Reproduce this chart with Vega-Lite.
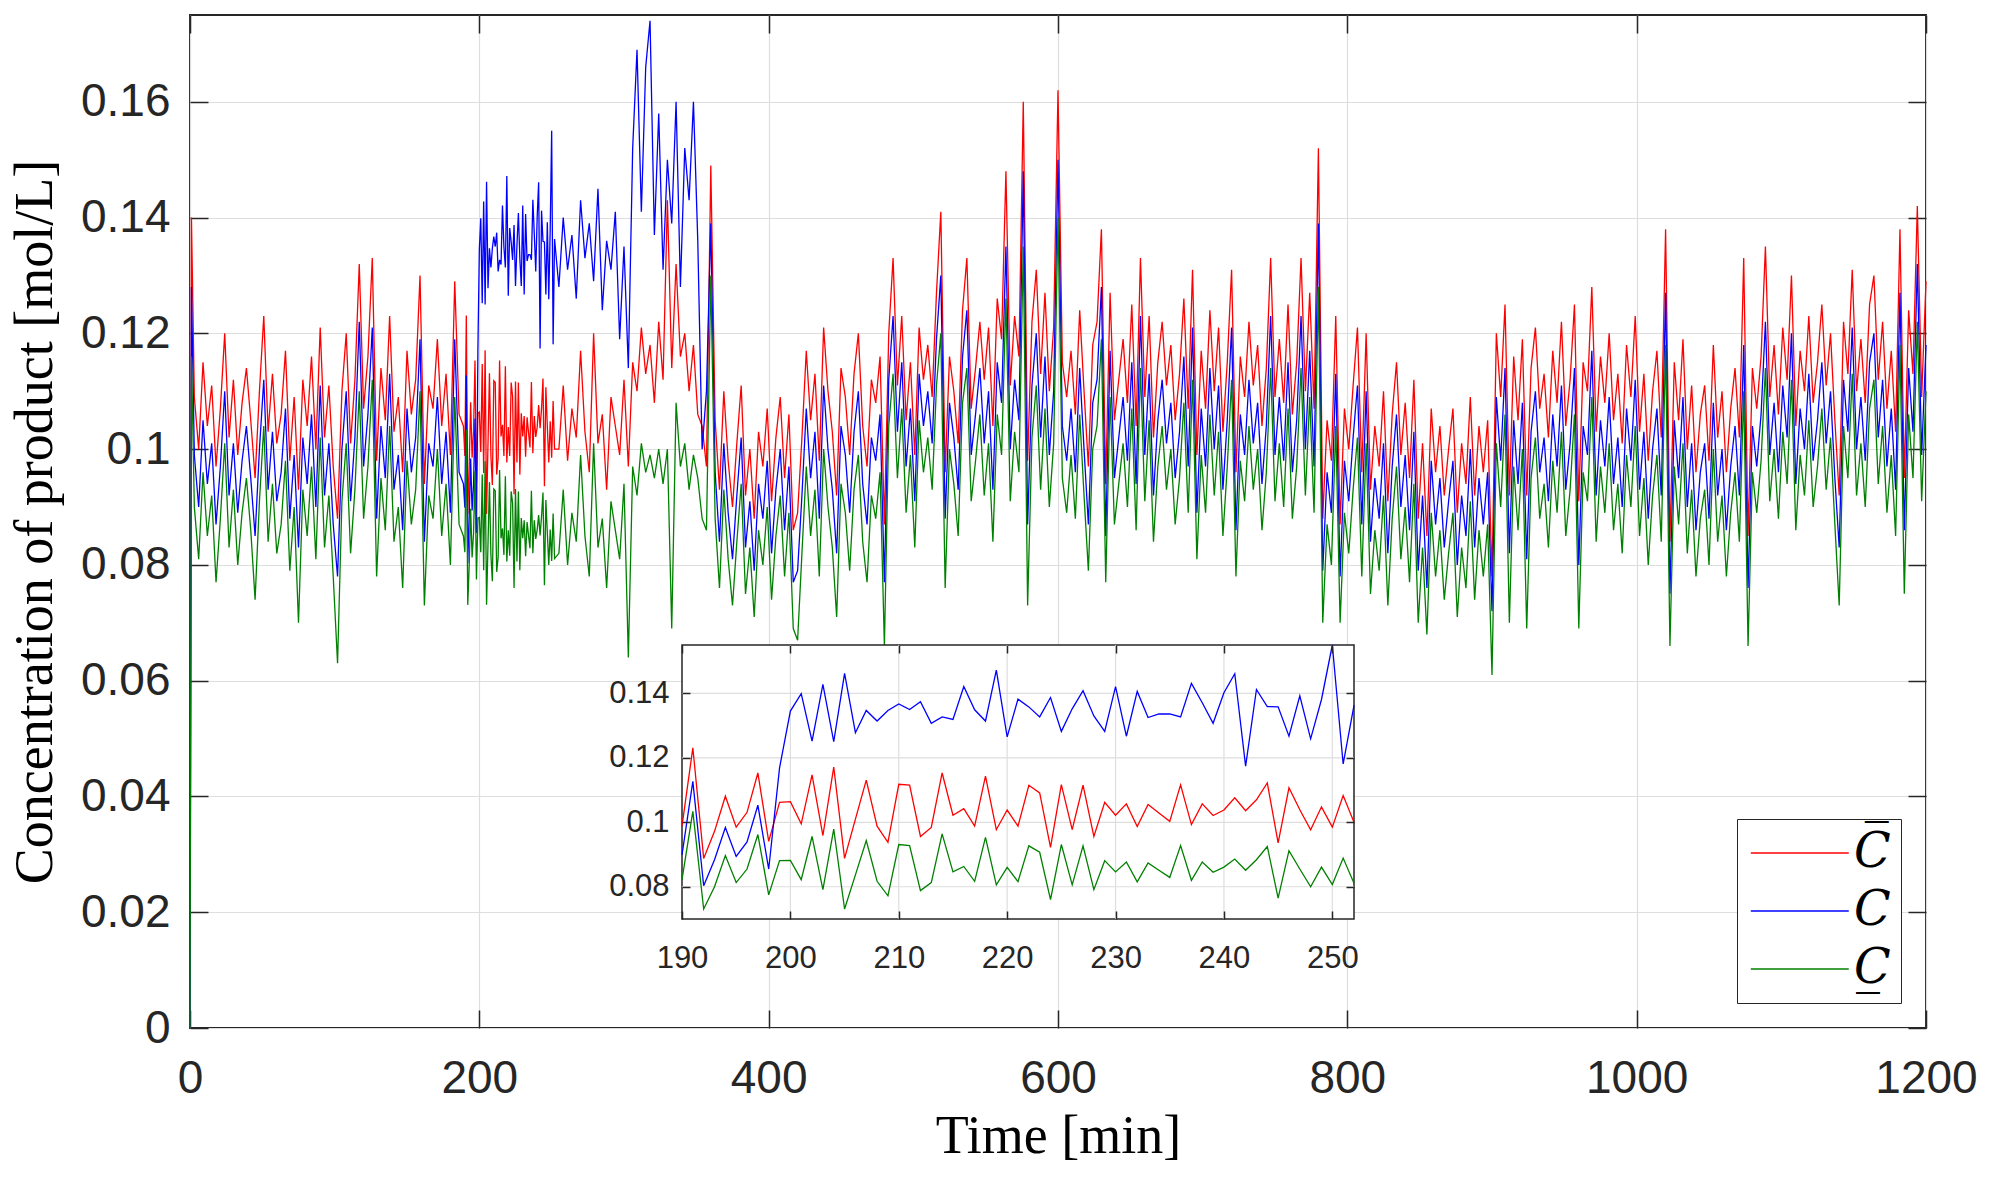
{
  "$schema": "https://vega.github.io/schema/vega-lite/v6.json",
  "width": 1736,
  "height": 1013,
  "autosize": {"type": "none"},
  "padding": {"left": 190, "top": 15, "right": 64, "bottom": 150},
  "background": "white",
  "datasets": {
    "main": [
      {"t":0,"u":0,"c":0,"l":0},{"t":1,"u":0.140,"c":0.128,"l":0.116},
      {"t":3,"u":0.109,"c":0.099,"l":0.090},{"t":6,"u":0.100,"c":0.090,"l":0.081},{"t":9,"u":0.115,"c":0.105,"l":0.096},
      {"t":12,"u":0.104,"c":0.094,"l":0.085},{"t":15,"u":0.111,"c":0.101,"l":0.092},{"t":18,"u":0.097,"c":0.087,"l":0.077},
      {"t":21,"u":0.107,"c":0.097,"l":0.088},{"t":24,"u":0.120,"c":0.110,"l":0.101},{"t":27,"u":0.102,"c":0.092,"l":0.083},
      {"t":30,"u":0.112,"c":0.101,"l":0.093},{"t":33,"u":0.099,"c":0.089,"l":0.080},{"t":36,"u":0.108,"c":0.098,"l":0.089},
      {"t":39,"u":0.114,"c":0.104,"l":0.095},{"t":42,"u":0.105,"c":0.095,"l":0.086},{"t":45,"u":0.095,"c":0.085,"l":0.074},
      {"t":48,"u":0.110,"c":0.100,"l":0.091},{"t":51,"u":0.123,"c":0.112,"l":0.104},{"t":54,"u":0.103,"c":0.093,"l":0.084},
      {"t":57,"u":0.113,"c":0.103,"l":0.094},{"t":60,"u":0.101,"c":0.091,"l":0.082},{"t":63,"u":0.106,"c":0.096,"l":0.087},
      {"t":66,"u":0.117,"c":0.107,"l":0.098},{"t":69,"u":0.098,"c":0.088,"l":0.079},{"t":72,"u":0.109,"c":0.099,"l":0.090},
      {"t":75,"u":0.093,"c":0.083,"l":0.070},{"t":78,"u":0.112,"c":0.102,"l":0.093},{"t":81,"u":0.104,"c":0.094,"l":0.085},
      {"t":84,"u":0.116,"c":0.106,"l":0.097},{"t":87,"u":0.100,"c":0.090,"l":0.081},{"t":90,"u":0.121,"c":0.111,"l":0.102},
      {"t":93,"u":0.102,"c":0.092,"l":0.083},{"t":96,"u":0.111,"c":0.101,"l":0.092},{"t":99,"u":0.097,"c":0.087,"l":0.078},
      {"t":102,"u":0.088,"c":0.078,"l":0.063},{"t":105,"u":0.110,"c":0.100,"l":0.091},{"t":108,"u":0.120,"c":0.110,"l":0.101},
      {"t":111,"u":0.101,"c":0.091,"l":0.082},{"t":114,"u":0.112,"c":0.102,"l":0.093},{"t":117,"u":0.132,"c":0.122,"l":0.110},
      {"t":120,"u":0.107,"c":0.097,"l":0.088},{"t":123,"u":0.116,"c":0.106,"l":0.097},{"t":126,"u":0.133,"c":0.121,"l":0.112},
      {"t":129,"u":0.098,"c":0.088,"l":0.078},{"t":132,"u":0.114,"c":0.104,"l":0.095},{"t":135,"u":0.105,"c":0.095,"l":0.086},
      {"t":138,"u":0.123,"c":0.113,"l":0.104},{"t":141,"u":0.103,"c":0.093,"l":0.084},{"t":144,"u":0.109,"c":0.099,"l":0.090},
      {"t":147,"u":0.096,"c":0.086,"l":0.076},{"t":150,"u":0.117,"c":0.107,"l":0.098},{"t":153,"u":0.106,"c":0.096,"l":0.087},
      {"t":156,"u":0.112,"c":0.102,"l":0.093},{"t":159,"u":0.130,"c":0.119,"l":0.110},{"t":162,"u":0.094,"c":0.084,"l":0.073},
      {"t":165,"u":0.111,"c":0.101,"l":0.092},{"t":168,"u":0.107,"c":0.097,"l":0.088},{"t":171,"u":0.119,"c":0.109,"l":0.100},
      {"t":174,"u":0.104,"c":0.094,"l":0.085},{"t":177,"u":0.113,"c":0.103,"l":0.094},{"t":180,"u":0.099,"c":0.089,"l":0.080},
      {"t":183,"u":0.129,"c":0.119,"l":0.109},{"t":186,"u":0.106,"c":0.096,"l":0.087},{"t":189,"u":0.104,"c":0.094,"l":0.085},
      {"t":190,"u":0.0988,"c":0.0899,"l":0.0822},{"t":191,"u":0.1231,"c":0.1127,"l":0.1034},{"t":192,"u":0.0888,"c":0.0803,"l":0.0731},
      {"t":193,"u":0.0972,"c":0.0884,"l":0.0800},{"t":194,"u":0.1081,"c":0.0984,"l":0.0897},{"t":195,"u":0.0985,"c":0.0894,"l":0.0813},
      {"t":196,"u":0.1031,"c":0.0939,"l":0.0855},{"t":197,"u":0.1153,"c":0.1053,"l":0.0962},{"t":198,"u":0.0941,"c":0.0855,"l":0.0775},
      {"t":199,"u":0.1062,"c":0.1169,"l":0.0881},{"t":200,"u":0.1064,"c":0.1345,"l":0.0882},{"t":201,"u":0.0995,"c":0.1399,"l":0.0822},
      {"t":202,"u":0.1147,"c":0.1252,"l":0.0956},{"t":203,"u":0.0959,"c":0.1428,"l":0.0791},{"t":204,"u":0.1171,"c":0.1250,"l":0.0979},
      {"t":205,"u":0.0888,"c":0.1462,"l":0.0731},{"t":206,"u":0.1010,"c":0.1278,"l":0.0837},{"t":207,"u":0.1131,"c":0.1347,"l":0.0943},
      {"t":208,"u":0.0988,"c":0.1314,"l":0.0817},{"t":209,"u":0.0938,"c":0.1347,"l":0.0772},{"t":210,"u":0.1118,"c":0.1367,"l":0.0931},
      {"t":211,"u":0.1115,"c":0.1350,"l":0.0928},{"t":212,"u":0.0956,"c":0.1374,"l":0.0788},{"t":213,"u":0.0984,"c":0.1307,"l":0.0813},
      {"t":214,"u":0.1153,"c":0.1327,"l":0.0964},{"t":215,"u":0.1022,"c":0.1319,"l":0.0846},{"t":216,"u":0.1042,"c":0.1421,"l":0.0863},
      {"t":217,"u":0.0988,"c":0.1349,"l":0.0817},{"t":218,"u":0.1143,"c":0.1314,"l":0.0953},{"t":219,"u":0.0977,"c":0.1472,"l":0.0806},
      {"t":220,"u":0.1038,"c":0.1265,"l":0.0860},{"t":221,"u":0.0988,"c":0.1382,"l":0.0816},{"t":222,"u":0.1115,"c":0.1358,"l":0.0927},
      {"t":223,"u":0.1091,"c":0.1327,"l":0.0907},{"t":224,"u":0.0922,"c":0.1387,"l":0.0760},{"t":225,"u":0.1117,"c":0.1282,"l":0.0931},
      {"t":226,"u":0.0977,"c":0.1352,"l":0.0806},{"t":227,"u":0.1115,"c":0.1408,"l":0.0927},{"t":228,"u":0.0956,"c":0.1330,"l":0.0791},
      {"t":229,"u":0.1062,"c":0.1282,"l":0.0881},{"t":230,"u":0.1022,"c":0.1421,"l":0.0846},{"t":231,"u":0.1057,"c":0.1267,"l":0.0877},
      {"t":232,"u":0.0987,"c":0.1406,"l":0.0815},{"t":233,"u":0.1055,"c":0.1325,"l":0.0874},{"t":234,"u":0.1029,"c":0.1336,"l":0.0851},
      {"t":235,"u":0.1003,"c":0.1336,"l":0.0829},{"t":236,"u":0.1116,"c":0.1327,"l":0.0928},{"t":237,"u":0.0993,"c":0.1431,"l":0.0820},
      {"t":238,"u":0.1057,"c":0.1371,"l":0.0877},{"t":239,"u":0.1021,"c":0.1307,"l":0.0845},{"t":240,"u":0.1038,"c":0.1402,"l":0.0861},
      {"t":241,"u":0.1076,"c":0.1461,"l":0.0886},{"t":242,"u":0.1036,"c":0.1174,"l":0.0851},{"t":243,"u":0.1070,"c":0.1412,"l":0.0884},
      {"t":244,"u":0.1122,"c":0.1359,"l":0.0925},{"t":245,"u":0.0936,"c":0.1358,"l":0.0765},{"t":246,"u":0.1107,"c":0.1267,"l":0.0912},
      {"t":247,"u":0.1039,"c":0.1392,"l":0.0855},{"t":248,"u":0.0977,"c":0.1259,"l":0.0800},{"t":249,"u":0.1048,"c":0.1381,"l":0.0861},
      {"t":250,"u":0.0985,"c":0.1550,"l":0.0807},{"t":251,"u":0.1083,"c":0.1181,"l":0.0889},{"t":252,"u":0.1000,"c":0.1363,"l":0.0811},
      {"t":255,"u":0.100,"c":0.128,"l":0.082},{"t":258,"u":0.111,"c":0.140,"l":0.093},{"t":261,"u":0.098,"c":0.131,"l":0.080},
      {"t":264,"u":0.107,"c":0.137,"l":0.089},{"t":267,"u":0.102,"c":0.126,"l":0.084},{"t":270,"u":0.117,"c":0.143,"l":0.099},
      {"t":273,"u":0.103,"c":0.133,"l":0.085},{"t":276,"u":0.096,"c":0.139,"l":0.078},{"t":279,"u":0.120,"c":0.129,"l":0.101},
      {"t":282,"u":0.101,"c":0.145,"l":0.083},{"t":285,"u":0.106,"c":0.124,"l":0.088},{"t":288,"u":0.093,"c":0.136,"l":0.076},
      {"t":291,"u":0.109,"c":0.131,"l":0.091},{"t":294,"u":0.104,"c":0.141,"l":0.086},{"t":297,"u":0.099,"c":0.119,"l":0.081},
      {"t":300,"u":0.112,"c":0.135,"l":0.094},{"t":303,"u":0.097,"c":0.114,"l":0.064},{"t":306,"u":0.115,"c":0.152,"l":0.097},
      {"t":309,"u":0.110,"c":0.169,"l":0.092},{"t":312,"u":0.121,"c":0.141,"l":0.101},{"t":315,"u":0.113,"c":0.166,"l":0.096},
      {"t":318,"u":0.118,"c":0.174,"l":0.099},{"t":321,"u":0.108,"c":0.137,"l":0.095},{"t":324,"u":0.122,"c":0.158,"l":0.100},
      {"t":327,"u":0.112,"c":0.131,"l":0.094},{"t":330,"u":0.143,"c":0.150,"l":0.100},{"t":333,"u":0.114,"c":0.139,"l":0.069},
      {"t":336,"u":0.132,"c":0.160,"l":0.108},{"t":339,"u":0.116,"c":0.128,"l":0.097},{"t":342,"u":0.120,"c":0.152,"l":0.101},
      {"t":345,"u":0.110,"c":0.143,"l":0.093},{"t":348,"u":0.118,"c":0.160,"l":0.099},{"t":351,"u":0.106,"c":0.136,"l":0.095},
      {"t":354,"u":0.104,"c":0.100,"l":0.088},{"t":357,"u":0.097,"c":0.110,"l":0.086},{"t":360,"u":0.149,"c":0.139,"l":0.130},
      {"t":363,"u":0.105,"c":0.096,"l":0.088},{"t":366,"u":0.093,"c":0.084,"l":0.076},{"t":369,"u":0.110,"c":0.101,"l":0.093},
      {"t":372,"u":0.098,"c":0.089,"l":0.081},{"t":375,"u":0.090,"c":0.081,"l":0.073},{"t":378,"u":0.101,"c":0.092,"l":0.084},
      {"t":381,"u":0.111,"c":0.102,"l":0.094},{"t":384,"u":0.092,"c":0.083,"l":0.075},{"t":387,"u":0.100,"c":0.091,"l":0.083},
      {"t":390,"u":0.088,"c":0.079,"l":0.071},{"t":393,"u":0.103,"c":0.094,"l":0.086},{"t":396,"u":0.097,"c":0.088,"l":0.080},
      {"t":399,"u":0.107,"c":0.098,"l":0.090},{"t":402,"u":0.091,"c":0.082,"l":0.074},{"t":405,"u":0.102,"c":0.093,"l":0.085},
      {"t":408,"u":0.109,"c":0.100,"l":0.092},{"t":411,"u":0.095,"c":0.086,"l":0.078},{"t":414,"u":0.106,"c":0.097,"l":0.089},
      {"t":417,"u":0.086,"c":0.077,"l":0.069},{"t":420,"u":0.089,"c":0.079,"l":0.067},{"t":423,"u":0.102,"c":0.092,"l":0.082},
      {"t":426,"u":0.117,"c":0.107,"l":0.097},{"t":429,"u":0.105,"c":0.095,"l":0.085},{"t":432,"u":0.113,"c":0.103,"l":0.093},
      {"t":435,"u":0.098,"c":0.088,"l":0.078},{"t":438,"u":0.121,"c":0.111,"l":0.100},{"t":441,"u":0.110,"c":0.100,"l":0.090},
      {"t":444,"u":0.103,"c":0.093,"l":0.083},{"t":447,"u":0.092,"c":0.082,"l":0.071},{"t":450,"u":0.114,"c":0.104,"l":0.094},
      {"t":453,"u":0.109,"c":0.099,"l":0.089},{"t":456,"u":0.099,"c":0.089,"l":0.079},{"t":459,"u":0.113,"c":0.103,"l":0.093},
      {"t":462,"u":0.120,"c":0.110,"l":0.099},{"t":465,"u":0.104,"c":0.094,"l":0.084},{"t":468,"u":0.097,"c":0.087,"l":0.077},
      {"t":471,"u":0.112,"c":0.102,"l":0.092},{"t":474,"u":0.108,"c":0.098,"l":0.088},{"t":477,"u":0.116,"c":0.106,"l":0.096},
      {"t":480,"u":0.087,"c":0.077,"l":0.066},{"t":483,"u":0.120,"c":0.112,"l":0.104},{"t":486,"u":0.133,"c":0.123,"l":0.113},
      {"t":489,"u":0.111,"c":0.103,"l":0.095},{"t":492,"u":0.123,"c":0.115,"l":0.107},{"t":495,"u":0.105,"c":0.097,"l":0.089},
      {"t":498,"u":0.115,"c":0.107,"l":0.099},{"t":501,"u":0.099,"c":0.091,"l":0.083},{"t":504,"u":0.121,"c":0.113,"l":0.105},
      {"t":507,"u":0.112,"c":0.104,"l":0.096},{"t":510,"u":0.118,"c":0.110,"l":0.102},{"t":513,"u":0.109,"c":0.101,"l":0.093},
      {"t":516,"u":0.127,"c":0.119,"l":0.111},{"t":519,"u":0.141,"c":0.130,"l":0.120},{"t":522,"u":0.096,"c":0.088,"l":0.076},
      {"t":525,"u":0.116,"c":0.108,"l":0.100},{"t":528,"u":0.110,"c":0.102,"l":0.094},{"t":531,"u":0.101,"c":0.093,"l":0.085},
      {"t":534,"u":0.124,"c":0.116,"l":0.108},{"t":537,"u":0.133,"c":0.124,"l":0.114},{"t":540,"u":0.107,"c":0.099,"l":0.091},
      {"t":543,"u":0.114,"c":0.106,"l":0.098},{"t":546,"u":0.122,"c":0.114,"l":0.106},{"t":549,"u":0.112,"c":0.101,"l":0.092},
      {"t":552,"u":0.121,"c":0.110,"l":0.101},{"t":555,"u":0.104,"c":0.093,"l":0.084},{"t":558,"u":0.126,"c":0.115,"l":0.106},
      {"t":561,"u":0.119,"c":0.108,"l":0.099},{"t":564,"u":0.148,"c":0.135,"l":0.126},{"t":567,"u":0.111,"c":0.100,"l":0.091},
      {"t":570,"u":0.123,"c":0.112,"l":0.103},{"t":573,"u":0.116,"c":0.105,"l":0.096},{"t":576,"u":0.160,"c":0.148,"l":0.135},
      {"t":579,"u":0.098,"c":0.087,"l":0.073},{"t":582,"u":0.122,"c":0.111,"l":0.102},{"t":585,"u":0.131,"c":0.120,"l":0.111},
      {"t":588,"u":0.113,"c":0.102,"l":0.093},{"t":591,"u":0.127,"c":0.116,"l":0.107},{"t":594,"u":0.110,"c":0.099,"l":0.090},
      {"t":597,"u":0.121,"c":0.110,"l":0.101},{"t":600,"u":0.162,"c":0.150,"l":0.140},{"t":603,"u":0.115,"c":0.104,"l":0.095},
      {"t":606,"u":0.109,"c":0.098,"l":0.089},{"t":609,"u":0.117,"c":0.107,"l":0.099},{"t":612,"u":0.106,"c":0.096,"l":0.088},
      {"t":615,"u":0.124,"c":0.114,"l":0.106},{"t":618,"u":0.110,"c":0.100,"l":0.092},{"t":621,"u":0.097,"c":0.087,"l":0.079},
      {"t":624,"u":0.118,"c":0.108,"l":0.100},{"t":627,"u":0.122,"c":0.112,"l":0.104},{"t":630,"u":0.138,"c":0.128,"l":0.119},
      {"t":633,"u":0.094,"c":0.085,"l":0.077},{"t":636,"u":0.127,"c":0.117,"l":0.109},{"t":639,"u":0.105,"c":0.095,"l":0.087},
      {"t":642,"u":0.112,"c":0.102,"l":0.094},{"t":645,"u":0.119,"c":0.109,"l":0.101},{"t":648,"u":0.108,"c":0.098,"l":0.090},
      {"t":651,"u":0.125,"c":0.115,"l":0.107},{"t":654,"u":0.104,"c":0.094,"l":0.086},{"t":657,"u":0.133,"c":0.123,"l":0.114},
      {"t":660,"u":0.109,"c":0.099,"l":0.091},{"t":663,"u":0.123,"c":0.113,"l":0.105},{"t":666,"u":0.102,"c":0.092,"l":0.084},
      {"t":669,"u":0.115,"c":0.105,"l":0.097},{"t":672,"u":0.122,"c":0.112,"l":0.104},{"t":675,"u":0.111,"c":0.101,"l":0.093},
      {"t":678,"u":0.118,"c":0.108,"l":0.100},{"t":681,"u":0.105,"c":0.095,"l":0.087},{"t":684,"u":0.113,"c":0.103,"l":0.095},
      {"t":687,"u":0.126,"c":0.116,"l":0.108},{"t":690,"u":0.107,"c":0.097,"l":0.089},{"t":693,"u":0.131,"c":0.121,"l":0.112},
      {"t":696,"u":0.099,"c":0.089,"l":0.081},{"t":699,"u":0.117,"c":0.107,"l":0.099},{"t":702,"u":0.107,"c":0.097,"l":0.089},
      {"t":705,"u":0.124,"c":0.114,"l":0.106},{"t":708,"u":0.110,"c":0.100,"l":0.092},{"t":711,"u":0.121,"c":0.111,"l":0.103},
      {"t":714,"u":0.103,"c":0.093,"l":0.085},{"t":717,"u":0.115,"c":0.105,"l":0.097},{"t":720,"u":0.131,"c":0.121,"l":0.112},
      {"t":723,"u":0.096,"c":0.086,"l":0.078},{"t":726,"u":0.116,"c":0.106,"l":0.098},{"t":729,"u":0.109,"c":0.099,"l":0.091},
      {"t":732,"u":0.122,"c":0.112,"l":0.104},{"t":735,"u":0.111,"c":0.101,"l":0.093},{"t":738,"u":0.118,"c":0.108,"l":0.100},
      {"t":741,"u":0.104,"c":0.094,"l":0.086},{"t":744,"u":0.114,"c":0.104,"l":0.096},{"t":747,"u":0.133,"c":0.123,"l":0.114},
      {"t":750,"u":0.109,"c":0.099,"l":0.091},{"t":753,"u":0.119,"c":0.109,"l":0.101},{"t":756,"u":0.108,"c":0.098,"l":0.090},
      {"t":759,"u":0.125,"c":0.115,"l":0.107},{"t":762,"u":0.106,"c":0.096,"l":0.088},{"t":765,"u":0.115,"c":0.105,"l":0.097},
      {"t":768,"u":0.133,"c":0.123,"l":0.114},{"t":771,"u":0.110,"c":0.100,"l":0.092},{"t":774,"u":0.127,"c":0.117,"l":0.109},
      {"t":777,"u":0.107,"c":0.097,"l":0.089},{"t":780,"u":0.152,"c":0.139,"l":0.128},{"t":783,"u":0.088,"c":0.079,"l":0.070},
      {"t":786,"u":0.105,"c":0.096,"l":0.087},{"t":789,"u":0.098,"c":0.089,"l":0.080},{"t":792,"u":0.123,"c":0.113,"l":0.104},
      {"t":795,"u":0.087,"c":0.078,"l":0.070},{"t":798,"u":0.107,"c":0.098,"l":0.089},{"t":801,"u":0.100,"c":0.091,"l":0.082},
      {"t":804,"u":0.111,"c":0.102,"l":0.093},{"t":807,"u":0.121,"c":0.111,"l":0.102},{"t":810,"u":0.096,"c":0.087,"l":0.078},
      {"t":813,"u":0.120,"c":0.110,"l":0.101},{"t":816,"u":0.093,"c":0.084,"l":0.075},{"t":819,"u":0.104,"c":0.095,"l":0.086},
      {"t":822,"u":0.097,"c":0.088,"l":0.079},{"t":825,"u":0.110,"c":0.101,"l":0.092},{"t":828,"u":0.091,"c":0.082,"l":0.073},
      {"t":831,"u":0.106,"c":0.097,"l":0.088},{"t":834,"u":0.115,"c":0.106,"l":0.097},{"t":837,"u":0.099,"c":0.090,"l":0.081},
      {"t":840,"u":0.108,"c":0.099,"l":0.090},{"t":843,"u":0.095,"c":0.086,"l":0.077},{"t":846,"u":0.112,"c":0.103,"l":0.094},
      {"t":849,"u":0.088,"c":0.079,"l":0.070},{"t":852,"u":0.101,"c":0.092,"l":0.083},{"t":855,"u":0.085,"c":0.076,"l":0.068},
      {"t":858,"u":0.107,"c":0.098,"l":0.089},{"t":861,"u":0.096,"c":0.087,"l":0.078},{"t":864,"u":0.104,"c":0.095,"l":0.086},
      {"t":867,"u":0.092,"c":0.083,"l":0.074},{"t":870,"u":0.100,"c":0.091,"l":0.082},{"t":873,"u":0.107,"c":0.098,"l":0.089},
      {"t":876,"u":0.089,"c":0.080,"l":0.071},{"t":879,"u":0.101,"c":0.092,"l":0.083},{"t":882,"u":0.094,"c":0.085,"l":0.076},
      {"t":885,"u":0.109,"c":0.100,"l":0.091},{"t":888,"u":0.092,"c":0.083,"l":0.074},{"t":891,"u":0.104,"c":0.095,"l":0.086},
      {"t":894,"u":0.096,"c":0.087,"l":0.078},{"t":897,"u":0.105,"c":0.096,"l":0.087},{"t":900,"u":0.078,"c":0.072,"l":0.061},
      {"t":903,"u":0.120,"c":0.109,"l":0.101},{"t":906,"u":0.109,"c":0.098,"l":0.090},{"t":909,"u":0.125,"c":0.114,"l":0.106},
      {"t":912,"u":0.092,"c":0.082,"l":0.070},{"t":915,"u":0.116,"c":0.105,"l":0.097},{"t":918,"u":0.105,"c":0.094,"l":0.086},
      {"t":921,"u":0.119,"c":0.108,"l":0.100},{"t":924,"u":0.092,"c":0.081,"l":0.069},{"t":927,"u":0.114,"c":0.103,"l":0.095},
      {"t":930,"u":0.121,"c":0.110,"l":0.102},{"t":933,"u":0.107,"c":0.096,"l":0.088},{"t":936,"u":0.113,"c":0.102,"l":0.094},
      {"t":939,"u":0.102,"c":0.091,"l":0.083},{"t":942,"u":0.117,"c":0.106,"l":0.098},{"t":945,"u":0.108,"c":0.097,"l":0.089},
      {"t":948,"u":0.122,"c":0.111,"l":0.103},{"t":951,"u":0.104,"c":0.093,"l":0.085},{"t":954,"u":0.112,"c":0.101,"l":0.093},
      {"t":957,"u":0.125,"c":0.114,"l":0.106},{"t":960,"u":0.091,"c":0.080,"l":0.069},{"t":963,"u":0.115,"c":0.104,"l":0.096},
      {"t":966,"u":0.110,"c":0.099,"l":0.091},{"t":969,"u":0.128,"c":0.117,"l":0.109},{"t":972,"u":0.103,"c":0.092,"l":0.084},
      {"t":975,"u":0.116,"c":0.105,"l":0.097},{"t":978,"u":0.108,"c":0.097,"l":0.089},{"t":981,"u":0.120,"c":0.109,"l":0.101},
      {"t":984,"u":0.105,"c":0.094,"l":0.086},{"t":987,"u":0.113,"c":0.102,"l":0.094},{"t":990,"u":0.101,"c":0.090,"l":0.082},
      {"t":993,"u":0.118,"c":0.107,"l":0.099},{"t":996,"u":0.109,"c":0.098,"l":0.090},{"t":999,"u":0.123,"c":0.112,"l":0.104},
      {"t":1002,"u":0.103,"c":0.093,"l":0.085},{"t":1005,"u":0.113,"c":0.103,"l":0.095},{"t":1008,"u":0.098,"c":0.088,"l":0.080},
      {"t":1011,"u":0.110,"c":0.100,"l":0.092},{"t":1014,"u":0.117,"c":0.107,"l":0.099},{"t":1017,"u":0.102,"c":0.092,"l":0.084},
      {"t":1020,"u":0.138,"c":0.127,"l":0.118},{"t":1023,"u":0.084,"c":0.075,"l":0.066},{"t":1026,"u":0.115,"c":0.105,"l":0.097},
      {"t":1029,"u":0.105,"c":0.095,"l":0.087},{"t":1032,"u":0.119,"c":0.109,"l":0.101},{"t":1035,"u":0.100,"c":0.090,"l":0.082},
      {"t":1038,"u":0.111,"c":0.101,"l":0.093},{"t":1041,"u":0.096,"c":0.086,"l":0.078},{"t":1044,"u":0.106,"c":0.096,"l":0.088},
      {"t":1047,"u":0.111,"c":0.101,"l":0.093},{"t":1050,"u":0.098,"c":0.088,"l":0.080},{"t":1053,"u":0.118,"c":0.108,"l":0.100},
      {"t":1056,"u":0.102,"c":0.092,"l":0.084},{"t":1059,"u":0.110,"c":0.100,"l":0.092},{"t":1062,"u":0.096,"c":0.086,"l":0.078},
      {"t":1065,"u":0.107,"c":0.097,"l":0.089},{"t":1068,"u":0.114,"c":0.104,"l":0.096},{"t":1071,"u":0.102,"c":0.092,"l":0.084},
      {"t":1074,"u":0.133,"c":0.118,"l":0.110},{"t":1077,"u":0.085,"c":0.076,"l":0.066},{"t":1080,"u":0.114,"c":0.104,"l":0.096},
      {"t":1083,"u":0.107,"c":0.097,"l":0.089},{"t":1086,"u":0.116,"c":0.106,"l":0.098},{"t":1089,"u":0.135,"c":0.122,"l":0.114},
      {"t":1092,"u":0.109,"c":0.099,"l":0.091},{"t":1095,"u":0.118,"c":0.108,"l":0.100},{"t":1098,"u":0.106,"c":0.096,"l":0.088},
      {"t":1101,"u":0.121,"c":0.111,"l":0.103},{"t":1104,"u":0.112,"c":0.102,"l":0.094},{"t":1107,"u":0.130,"c":0.120,"l":0.112},
      {"t":1110,"u":0.104,"c":0.094,"l":0.086},{"t":1113,"u":0.117,"c":0.107,"l":0.099},{"t":1116,"u":0.110,"c":0.100,"l":0.092},
      {"t":1119,"u":0.123,"c":0.113,"l":0.105},{"t":1122,"u":0.108,"c":0.098,"l":0.090},{"t":1125,"u":0.115,"c":0.105,"l":0.097},
      {"t":1128,"u":0.125,"c":0.115,"l":0.107},{"t":1131,"u":0.111,"c":0.101,"l":0.093},{"t":1134,"u":0.120,"c":0.110,"l":0.102},
      {"t":1137,"u":0.105,"c":0.095,"l":0.087},{"t":1140,"u":0.092,"c":0.083,"l":0.073},{"t":1143,"u":0.122,"c":0.112,"l":0.104},
      {"t":1146,"u":0.113,"c":0.103,"l":0.095},{"t":1149,"u":0.131,"c":0.121,"l":0.113},{"t":1152,"u":0.110,"c":0.100,"l":0.092},
      {"t":1155,"u":0.119,"c":0.109,"l":0.101},{"t":1158,"u":0.108,"c":0.098,"l":0.090},{"t":1161,"u":0.125,"c":0.115,"l":0.107},
      {"t":1164,"u":0.130,"c":0.120,"l":0.112},{"t":1167,"u":0.112,"c":0.102,"l":0.094},{"t":1170,"u":0.122,"c":0.112,"l":0.104},
      {"t":1173,"u":0.107,"c":0.097,"l":0.089},{"t":1176,"u":0.117,"c":0.107,"l":0.099},{"t":1179,"u":0.103,"c":0.093,"l":0.085},
      {"t":1182,"u":0.138,"c":0.127,"l":0.118},{"t":1185,"u":0.095,"c":0.086,"l":0.075},{"t":1188,"u":0.124,"c":0.114,"l":0.106},
      {"t":1191,"u":0.113,"c":0.103,"l":0.095},{"t":1194,"u":0.142,"c":0.132,"l":0.122},{"t":1197,"u":0.109,"c":0.099,"l":0.091},
      {"t":1200,"u":0.129,"c":0.118,"l":0.110}
    ],
    "ibox": [{"x0":190,"x1":252,"y0":0.07,"y1":0.155}],
    "igx": [{"g":200},{"g":210},{"g":220},{"g":230},{"g":240},{"g":250}],
    "igy": [{"g":0.08},{"g":0.1},{"g":0.12},{"g":0.14}],
    "anchor": [{"t":0,"v":0}]
  },
  "config": {
    "view": {"stroke": "#262626", "strokeWidth": 2},
    "axis": {
      "labelFont": "Liberation Sans",
      "labelColor": "#262626",
      "labelFlush": false,
      "tickColor": "#262626",
      "tickWidth": 1.5,
      "domain": false,
      "gridColor": "#dedede",
      "gridWidth": 1.2,
      "titleColor": "#000000",
      "titleFont": "Liberation Serif",
      "titleFontWeight": "normal"
    },
    "legend": {
      "orient": "none",
      "legendX": 1547,
      "legendY": 804,
      "strokeColor": "#262626",
      "fillColor": "white",
      "padding": 10,
      "symbolType": "M-1.65,0H6.35",
      "symbolSize": 600,
      "symbolStrokeWidth": 1.5,
      "labelFont": "DejaVu Serif",
      "labelFontStyle": "italic",
      "labelFontSize": 48,
      "labelColor": "black",
      "labelOffset": 59,
      "rowPadding": 10,
      "labelLimit": 0
    }
  },
  "resolve": {"scale": {"x": "independent", "y": "independent"}},
  "layer": [
    {
      "data": {"name": "main"},
      "transform": [{"fold": ["u", "c", "l"], "as": ["s", "v"]}],
      "mark": {"type": "line", "strokeWidth": 1.3},
      "encoding": {
        "x": {"field": "t", "type": "quantitative",
          "scale": {"domain": [0, 1200], "nice": false, "zero": false},
          "axis": {"orient": "bottom", "values": [0, 200, 400, 600, 800, 1000, 1200], "format": "d", "grid": true,
            "tickSize": -18, "labelPadding": 46, "labelFontSize": 46,
            "title": "Time [min]", "titleFontSize": 54, "titlePadding": 8}},
        "y": {"field": "v", "type": "quantitative",
          "scale": {"domain": [0, 0.175], "nice": false, "zero": false},
          "axis": {"orient": "left", "values": [0, 0.02, 0.04, 0.06, 0.08, 0.1, 0.12, 0.14, 0.16], "format": "~g", "grid": true,
            "tickSize": -18, "labelPadding": 38, "labelFontSize": 46,
            "title": "Concentration of product [mol/L]", "titleFontSize": 54, "titlePadding": 18}},
        "color": {"field": "s", "type": "nominal",
          "scale": {"domain": ["u", "c", "l"], "range": ["#ff0000", "#0000ff", "#008000"]},
          "legend": {"title": null,
            "labelExpr": "datum.label == 'u' ? 'C\u0305' : datum.label == 'c' ? 'C' : 'C\u0332'"}}
      }
    },
    {
      "data": {"name": "anchor"},
      "mark": {"type": "point", "opacity": 0},
      "encoding": {
        "x": {"field": "t", "type": "quantitative",
          "scale": {"domain": [0, 1200], "nice": false, "zero": false},
          "axis": {"orient": "top", "values": [0, 200, 400, 600, 800, 1000, 1200], "labels": false, "grid": false, "tickSize": -18, "title": null}},
        "y": {"field": "v", "type": "quantitative",
          "scale": {"domain": [0, 0.175], "nice": false, "zero": false},
          "axis": {"orient": "right", "values": [0, 0.02, 0.04, 0.06, 0.08, 0.1, 0.12, 0.14, 0.16], "labels": false, "grid": false, "tickSize": -18, "title": null}}
      }
    },
    {
      "data": {"name": "ibox"},
      "mark": {"type": "rect", "fill": "white", "stroke": "#262626", "strokeWidth": 1.5},
      "encoding": {
        "x": {"field": "x0", "type": "quantitative",
          "scale": {"domain": [190, 252], "range": [492, 1164], "nice": false, "zero": false},
          "axis": {"orient": "top", "offset": -630, "values": [190, 200, 210, 220, 230, 240, 250], "labels": false, "grid": false, "tickSize": -8, "title": null, "zindex": 1}},
        "x2": {"field": "x1"},
        "y": {"field": "y0", "type": "quantitative",
          "scale": {"domain": [0.07, 0.155], "range": [904, 630], "nice": false, "zero": false},
          "axis": {"orient": "right", "offset": -572, "values": [0.08, 0.1, 0.12, 0.14], "labels": false, "grid": false, "tickSize": -8, "title": null, "zindex": 1}},
        "y2": {"field": "y1"}
      }
    },
    {
      "data": {"name": "igx"},
      "mark": {"type": "rule", "color": "#dedede", "strokeWidth": 1.2},
      "encoding": {
        "x": {"field": "g", "type": "quantitative",
          "scale": {"domain": [190, 252], "range": [492, 1164], "nice": false, "zero": false}, "axis": null},
        "y": {"datum": 0.07, "type": "quantitative",
          "scale": {"domain": [0.07, 0.155], "range": [904, 630], "nice": false, "zero": false}, "axis": null},
        "y2": {"datum": 0.155}
      }
    },
    {
      "data": {"name": "igy"},
      "mark": {"type": "rule", "color": "#dedede", "strokeWidth": 1.2},
      "encoding": {
        "y": {"field": "g", "type": "quantitative",
          "scale": {"domain": [0.07, 0.155], "range": [904, 630], "nice": false, "zero": false}, "axis": null},
        "x": {"datum": 190, "type": "quantitative",
          "scale": {"domain": [190, 252], "range": [492, 1164], "nice": false, "zero": false}, "axis": null},
        "x2": {"datum": 252}
      }
    },
    {
      "data": {"name": "main"},
      "transform": [{"filter": {"field": "t", "range": [190, 252]}}, {"fold": ["u", "c", "l"], "as": ["s", "v"]}],
      "mark": {"type": "line", "strokeWidth": 1.3},
      "encoding": {
        "x": {"field": "t", "type": "quantitative",
          "scale": {"domain": [190, 252], "range": [492, 1164], "nice": false, "zero": false},
          "axis": {"orient": "bottom", "offset": -109, "values": [190, 200, 210, 220, 230, 240, 250], "grid": false,
            "tickSize": -8, "labelPadding": 32, "labelFontSize": 31, "title": null, "zindex": 1}},
        "y": {"field": "v", "type": "quantitative",
          "scale": {"domain": [0.07, 0.155], "range": [904, 630], "nice": false, "zero": false},
          "axis": {"orient": "left", "offset": -492, "values": [0.08, 0.1, 0.12, 0.14], "format": "~g", "grid": false,
            "tickSize": -8, "labelPadding": 21, "labelFontSize": 31, "title": null, "zindex": 1}},
        "color": {"field": "s", "type": "nominal",
          "scale": {"domain": ["u", "c", "l"], "range": ["#ff0000", "#0000ff", "#008000"]}, "legend": null}
      }
    }
  ]
}
